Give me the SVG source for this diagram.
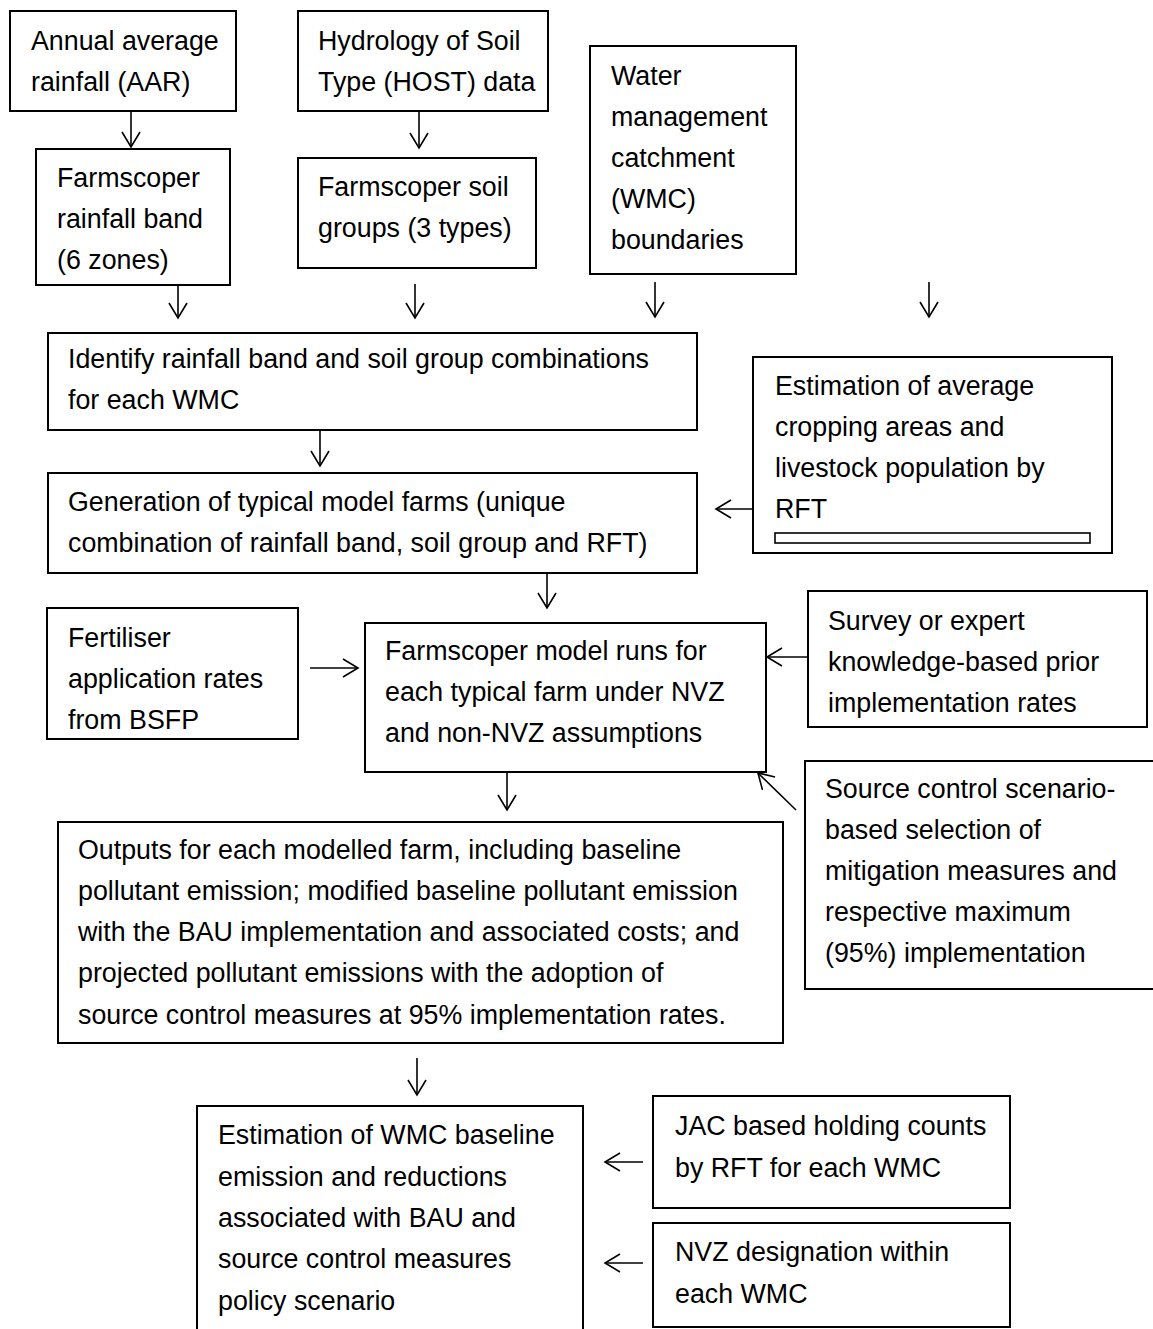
<svg xmlns="http://www.w3.org/2000/svg" width="1153" height="1329" viewBox="0 0 1153 1329">
<style>
.box{fill:#fff;stroke:#000;stroke-width:2}
.t{font-family:"Liberation Sans",Arial,sans-serif;font-size:26.8px;fill:#000}
.c{stroke:#000;stroke-width:1.6;fill:none}
</style>
<defs>
<marker id="ah" markerUnits="userSpaceOnUse" markerWidth="20" markerHeight="20" viewBox="0 0 20 20" refX="18" refY="10" orient="auto">
<path d="M3,1 L18,10 L3,19" fill="none" stroke="#000" stroke-width="1.6"/>
</marker>
</defs>
<rect width="1153" height="1329" fill="#fff"/>
<g id="n-aar"><rect class="box" x="10" y="11" width="226" height="100"/>
<text class="t" x="31" y="50">Annual average</text><text class="t" x="31" y="91">rainfall (AAR)</text></g>
<g id="n-host"><rect class="box" x="298" y="11" width="250" height="100"/>
<text class="t" x="318" y="50">Hydrology of Soil</text><text class="t" x="318" y="91">Type (HOST) data</text></g>
<g id="n-band"><rect class="box" x="36" y="149" width="194" height="136"/>
<text class="t" x="57" y="187">Farmscoper</text><text class="t" x="57" y="228">rainfall band</text><text class="t" x="57" y="269">(6 zones)</text></g>
<g id="n-soil"><rect class="box" x="298" y="158" width="238" height="110"/>
<text class="t" x="318" y="196">Farmscoper soil</text><text class="t" x="318" y="237">groups (3 types)</text></g>
<g id="n-wmc"><rect class="box" x="590" y="46" width="206" height="228"/>
<text class="t" x="611" y="85">Water</text><text class="t" x="611" y="126">management</text><text class="t" x="611" y="167">catchment</text><text class="t" x="611" y="208">(WMC)</text><text class="t" x="611" y="249">boundaries</text></g>
<g id="n-identify"><rect class="box" x="48" y="333" width="649" height="97"/>
<text class="t" x="68" y="368">Identify rainfall band and soil group combinations</text><text class="t" x="68" y="409">for each WMC</text></g>
<g id="n-estavg"><rect class="box" x="753" y="357" width="359" height="196"/>
<text class="t" x="775" y="395">Estimation of average</text><text class="t" x="775" y="436">cropping areas and</text><text class="t" x="775" y="477">livestock population by</text><text class="t" x="775" y="518">RFT</text>
<rect x="775" y="533" width="315" height="10" fill="#fff" stroke="#000" stroke-width="1.6"/></g>
<g id="n-gen"><rect class="box" x="48" y="473" width="649" height="100"/>
<text class="t" x="68" y="511">Generation of typical model farms (unique</text><text class="t" x="68" y="552">combination of rainfall band, soil group and RFT)</text></g>
<g id="n-fert"><rect class="box" x="47" y="608" width="251" height="131"/>
<text class="t" x="68" y="647">Fertiliser</text><text class="t" x="68" y="688">application rates</text><text class="t" x="68" y="729">from BSFP</text></g>
<g id="n-runs"><rect class="box" x="365" y="623" width="401" height="149"/>
<text class="t" x="385" y="660">Farmscoper model runs for</text><text class="t" x="385" y="701">each typical farm under NVZ</text><text class="t" x="385" y="742">and non-NVZ assumptions</text></g>
<g id="n-survey"><rect class="box" x="808" y="591" width="339" height="136"/>
<text class="t" x="828" y="630">Survey or expert</text><text class="t" x="828" y="671">knowledge-based prior</text><text class="t" x="828" y="712">implementation rates</text></g>
<g id="n-source"><rect class="box" x="805" y="761" width="352" height="228"/>
<text class="t" x="825" y="798">Source control scenario-</text><text class="t" x="825" y="839">based selection of</text><text class="t" x="825" y="880">mitigation measures and</text><text class="t" x="825" y="921">respective maximum</text><text class="t" x="825" y="962">(95%) implementation</text></g>
<g id="n-outputs"><rect class="box" x="58" y="822" width="725" height="221"/>
<text class="t" x="78" y="859">Outputs for each modelled farm, including baseline</text><text class="t" x="78" y="900">pollutant emission; modified baseline pollutant emission</text><text class="t" x="78" y="941">with the BAU implementation and associated costs; and</text><text class="t" x="78" y="982">projected pollutant emissions with the adoption of</text><text class="t" x="78" y="1024">source control measures at 95% implementation rates.</text></g>
<g id="n-estwmc"><rect class="box" x="197" y="1106" width="386" height="235"/>
<text class="t" x="218" y="1144">Estimation of WMC baseline</text><text class="t" x="218" y="1186">emission and reductions</text><text class="t" x="218" y="1227">associated with BAU and</text><text class="t" x="218" y="1268">source control measures</text><text class="t" x="218" y="1310">policy scenario</text></g>
<g id="n-jac"><rect class="box" x="653" y="1096" width="357" height="112"/>
<text class="t" x="675" y="1135">JAC based holding counts</text><text class="t" x="675" y="1177">by RFT for each WMC</text></g>
<g id="n-nvz"><rect class="box" x="653" y="1223" width="357" height="104"/>
<text class="t" x="675" y="1261">NVZ designation within</text><text class="t" x="675" y="1303">each WMC</text></g>
<g id="connectors">
<line class="c" x1="131" y1="112" x2="131" y2="147" marker-end="url(#ah)"/>
<line class="c" x1="419" y1="112" x2="419" y2="148" marker-end="url(#ah)"/>
<line class="c" x1="178" y1="285" x2="178" y2="318" marker-end="url(#ah)"/>
<line class="c" x1="415" y1="284" x2="415" y2="318" marker-end="url(#ah)"/>
<line class="c" x1="655" y1="282" x2="655" y2="317" marker-end="url(#ah)"/>
<line class="c" x1="929" y1="282" x2="929" y2="317" marker-end="url(#ah)"/>
<line class="c" x1="320" y1="431" x2="320" y2="466" marker-end="url(#ah)"/>
<line class="c" x1="752" y1="509" x2="716" y2="509" marker-end="url(#ah)"/>
<line class="c" x1="547" y1="574" x2="547" y2="608" marker-end="url(#ah)"/>
<line class="c" x1="310" y1="668" x2="358" y2="668" marker-end="url(#ah)"/>
<line class="c" x1="807" y1="657" x2="767" y2="657" marker-end="url(#ah)"/>
<line class="c" x1="796" y1="810" x2="758" y2="773" marker-end="url(#ah)"/>
<line class="c" x1="507" y1="773" x2="507" y2="810" marker-end="url(#ah)"/>
<line class="c" x1="417" y1="1058" x2="417" y2="1095" marker-end="url(#ah)"/>
<line class="c" x1="643" y1="1162" x2="605" y2="1162" marker-end="url(#ah)"/>
<line class="c" x1="643" y1="1263" x2="605" y2="1263" marker-end="url(#ah)"/>
</g>
</svg>
